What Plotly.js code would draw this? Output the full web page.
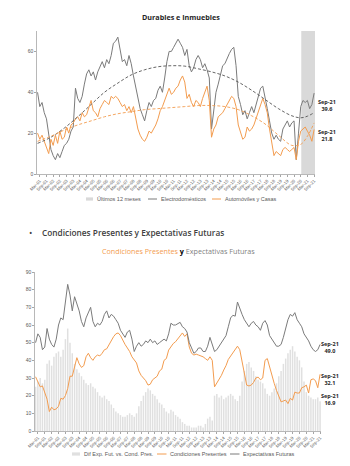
<!DOCTYPE html>
<html><head><meta charset="utf-8">
<script src="https://cdn.plot.ly/plotly-3.0.1.min.js"></script>
<style>html,body{margin:0;padding:0;background:#fff;} #chart{width:350px;height:466px;}</style>
</head><body><div id="chart"></div>
<script>
// Bimonthly samples: Jan-01, Mar-01, ... Sep-21 (month index = 2*i, month 0 = Jan-01)
const electro = [40,33,35,30,27,19,12,9,7,10,8,11,14,15,17,21,23,42,37,35,38,44,49,51,48,50,46,50,53,55,52,56,54,58,64,65,67,60,55,56,53,58,54,48,43,37,32,29,26,31,35,33,36,37,41,43,40,47,55,60,
  60,62,64,66,64,62,58,61,53,50,52,56,58,56,52,54,51,47,22,30,40,44,49,53,54,57,59,61,62,53,38,34,29,31,27,30,33,30,34,38,42,43,38,32,26,20,17,19,17,16,22,24,26,23,25,26,7,20,33,36,35,36,32,34,39.6];
const autos = [20,17,19,16,12,10,17,14,19,15,21,17,18,23,20,24,25,27,28,26,30,28,29,33,36,31,30,28,32,34,36,35,34,38,37,38,37,35,33,34,31,33,30,33,27,22,19,17,16,18,21,20,22,24,27,31,33,36,38,42,
  39,40,42,43,46,48,45,37,39,35,33,36,35,33,37,40,43,36,18,22,24,28,29,30,32,34,36,38,37,33,24,20,17,18,23,21,22,24,27,30,33,37,34,30,22,15,9,11,10,9,12,13,12,11,12,13,7,16,21,22,23,21,19,16,21.8];
const trendMonths = [0,12,24,36,48,60,72,84,96,108,120,132,144,156,168,180,192,204,216,228,236,242,248];
const electroTrend = [15,18,22.5,28,34,40,44.5,48.5,51,52.5,53,52.8,51.5,50,48,45,41,36.5,32,28.5,27.5,28.3,30];
const autosTrend = [16,18.5,21.5,24,26,28,29.5,30.5,31.5,32,32.5,33,33.5,33.5,33,31.5,28.5,24.5,19,14,14.5,18.5,25];

const expFut = [50,55,53,46,47.5,58,52,49,47.5,52,60,64,63,72,83,77,68,76,72,68,62,59,64,67,70,62,59,61,60,62,66,68,64,66,65,63,61,57,55,53,56,57,52,45,48,50,48,49,51,50,52,50,51,49,50,51,52,51,55,61,
  60,60,61,61.5,59,58,56,50,47,44,45,47,47,45,45,48,53,49,45,46,48,50,51.5,54,59,64,65.5,65,73,69,66,63,61,59,61,62,60,59,57,61,62.5,60,54,52,50,48,48,49,53,58,63,66,65,67,63,61,59,55,53,51,48,46,45,46,49];
const condPres = [30.7,28,25,25.5,22,18,11,13.5,12,12.5,14,18.5,18,20,24,31,31,37,41.5,38,36,37,42,44,41.5,40,42,43,42.5,44,46,46.5,49,51.5,53.4,55,55.5,54,51,49,47,45,42,40,38.5,34,31.5,30,28.5,26,26.5,29,30,31,34,35,40,41,45.8,47.5,
  49.5,50.5,52,53.4,55.5,53.5,55,47.5,44,43,43.5,43,42.5,42,41,40,42,40,25,27,29.5,31.5,34.5,37,40.5,42.5,44.5,46.5,48,46,39,31.5,26,25.5,26,27.5,30,30.5,29,30,40,41,36,32,27,23,19.5,16.5,17,17.5,15.5,18.5,17.5,22,21.5,21.5,24.5,25,26,21.5,29,29.5,28.5,24.5,32.1];
const difExpCond = [25,28,30,27,29,38,40,37,42,44,45,42,46,52,58,50,44,38,35,33,31,29,27,26,27,25,24,22,20,19,20,18,17,15,13,11,10,9,8,8,9,10,9,8,10,14,17,20,22,24,23,21,20,18,16,15,13,11,10,12,
  11,9,8,7,5,4,3,3,2,2,2,3,3,2,4,7,8,6,20,21,19,20,18,19,20,21,20,18,17,20,28,34,38,39,36,34,31,29,28,27,24,21,20,22,24,27,31,34,38,41,44,46,48,45,42,40,36,28,22,20,19,18,18,19,16.9];

const tickLabels = ["Mar-01","Sep-01","Mar-02","Sep-02","Mar-03","Sep-03","Mar-04","Sep-04","Mar-05","Sep-05","Mar-06","Sep-06","Mar-07","Sep-07","Mar-08","Sep-08","Mar-09","Sep-09","Mar-10","Sep-10","Mar-11","Sep-11","Mar-12","Sep-12","Mar-13","Sep-13","Mar-14","Sep-14","Mar-15","Sep-15","Mar-16","Sep-16","Mar-17","Sep-17","Mar-18","Sep-18","Mar-19","Sep-19","Mar-20","Sep-20","Mar-21","Sep-21"];
const lastLabel = "Sep-21";
const topNames = ['Últimos 12 meses', 'Electrodomésticos', 'Automóviles y Casas'];
const bottomNames = ['Dif Exp. Fut. vs. Cond. Pres.', 'Condiciones Presentes', 'Expectativas Futuras'];

const months = electro.map((_, i) => i * 2);
const tickVals = tickLabels.map((_, k) => 2 + 6 * k);
const lastM = months[months.length - 1];

const ORANGE = '#f39c4f', GRAY = '#7b7b7b', DARK = '#404040', SHADE = '#d9d9d9', BARC = '#e0e0e0';
const FONT = 'Liberation Sans, Arial, sans-serif';

const traces = [
  {type:'scatter', mode:'lines', x:months, y:electro, name:topNames[1], line:{color:GRAY, width:1}, xaxis:'x', yaxis:'y'},
  {type:'scatter', mode:'lines', x:months, y:autos, name:topNames[2], line:{color:ORANGE, width:1}, xaxis:'x', yaxis:'y'},
  {type:'scatter', mode:'lines', x:trendMonths, y:electroTrend, line:{color:'#555555', width:0.9, dash:'3px,2px', shape:'spline'}, xaxis:'x', yaxis:'y'},
  {type:'scatter', mode:'lines', x:trendMonths, y:autosTrend, line:{color:ORANGE, width:0.9, dash:'3px,2px', shape:'spline'}, xaxis:'x', yaxis:'y'},
  {type:'bar', x:months, y:difExpCond, name:bottomNames[0], marker:{color:BARC}, width:1.3, xaxis:'x2', yaxis:'y2'},
  {type:'scatter', mode:'lines', x:months, y:condPres, name:bottomNames[1], line:{color:ORANGE, width:1}, xaxis:'x2', yaxis:'y2'},
  {type:'scatter', mode:'lines', x:months, y:expFut, name:bottomNames[2], line:{color:GRAY, width:1}, xaxis:'x2', yaxis:'y2'}
];

const W = 350, H = 466;
const px = v => v / W, py = v => 1 - v / H;

const xCommon = {
  tickmode:'array', tickvals:tickVals, ticktext:tickLabels, tickangle:-45,
  tickfont:{family:FONT, size:4.3, color:'#595959'},
  showline:true, linecolor:'#a6a6a6', linewidth:0.8, ticks:'outside', ticklen:2, tickcolor:'#a6a6a6',
  showgrid:false, zeroline:false, range:[-0.5, 248.8], fixedrange:true
};
const yCommon = {
  tickfont:{family:FONT, size:5, color:'#595959'},
  showline:true, linecolor:'#a6a6a6', linewidth:0.8, ticks:'outside', ticklen:2, tickcolor:'#a6a6a6',
  showgrid:false, zeroline:false, fixedrange:true
};

const ann = (x, y, text, extra) => Object.assign({xref:'paper', yref:'paper', x:px(x), y:py(y), text, showarrow:false, xanchor:'center', yanchor:'middle'}, extra || {});
const annFont = {family:'Open Sans, sans-serif', size:5.5, color:'#262626'};
const legFont = {family:FONT, size:5.5, color:'#595959'};

// manual legends (symbol + label)
const shapes = [
  {type:'rect', xref:'x', yref:'y domain', x0:lastM - 11.5, x1:248.8, y0:0, y1:1, fillcolor:SHADE, line:{width:0}, layer:'below'}
];
const legendAnns = [];
function legendItem(kind, color, x0, x1, y, text) {
  if (kind === 'box') {
    shapes.push({type:'rect', xref:'paper', yref:'paper', x0:px(x0), x1:px(x1), y0:py(y+1.6), y1:py(y-1.6), fillcolor:color, line:{width:0}});
  } else {
    shapes.push({type:'line', xref:'paper', yref:'paper', x0:px(x0), x1:px(x1), y0:py(y), y1:py(y), line:{color:color, width:1}});
  }
  legendAnns.push(ann(x1 + 1.5, y, text, {xanchor:'left', font:legFont}));
}
legendItem('box', SHADE, 86, 93, 199, topNames[0]);
legendItem('line', GRAY, 148, 157, 199, topNames[1]);
legendItem('line', ORANGE, 212, 221, 199, topNames[2]);
legendItem('box', BARC, 72, 80, 454, bottomNames[0]);
legendItem('line', ORANGE, 157, 166.5, 454, bottomNames[1]);
legendItem('line', GRAY, 230, 239.5, 454, bottomNames[2]);

const layout = {
  width:W, height:H, margin:{l:0, r:0, t:0, b:0}, paper_bgcolor:'#fff', plot_bgcolor:'#fff',
  showlegend:false, bargap:0.3,
  xaxis: Object.assign({}, xCommon, {domain:[px(37), px(315)], anchor:'y'}),
  yaxis: Object.assign({}, yCommon, {domain:[py(174), py(31)], range:[0,70], tickvals:[0,20,40,60], anchor:'x'}),
  xaxis2: Object.assign({}, xCommon, {domain:[px(35), px(321)], anchor:'y2'}),
  yaxis2: Object.assign({}, yCommon, {domain:[py(431), py(272)], range:[0,90], dtick:10, anchor:'x2'}),
  shapes: shapes,
  annotations: [
    ann(181, 17, '<b>Durables e Inmuebles</b>', {font:{family:'Open Sans, sans-serif', size:7.2, color:'#262626'}}),
    ann(327, 105, '<b>' + lastLabel + '<br>' + electro[electro.length-1].toFixed(1) + '</b>', {font:annFont}),
    ann(327, 135, '<b>' + lastLabel + '<br>' + autos[autos.length-1].toFixed(1) + '</b>', {font:annFont}),
    ann(30, 232, '•', {font:{family:'Open Sans, sans-serif', size:9, color:DARK}}),
    ann(40, 232, 'Condiciones Presentes y Expectativas Futuras', {xanchor:'left', font:{family:'Open Sans, sans-serif', size:8.3, color:DARK, weight:600}}),
    ann(178, 251, '<span style="color:' + ORANGE + '">Condiciones Presentes</span> <b><span style="color:#000">y</span></b> <span style="color:#7f7f7f">Expectativas Futuras</span>', {font:{family:'Open Sans, sans-serif', size:7.2, color:'#7f7f7f'}}),
    ann(330, 347, '<b>' + lastLabel + '<br>' + expFut[expFut.length-1].toFixed(1) + '</b>', {font:annFont}),
    ann(330, 379, '<b>' + lastLabel + '<br>' + condPres[condPres.length-1].toFixed(1) + '</b>', {font:annFont}),
    ann(330, 399, '<b>' + lastLabel + '<br>' + difExpCond[difExpCond.length-1].toFixed(1) + '</b>', {font:annFont})
  ].concat(legendAnns)
};

Plotly.newPlot('chart', traces, layout, {staticPlot:true, displayModeBar:false});
</script>
</body></html>
